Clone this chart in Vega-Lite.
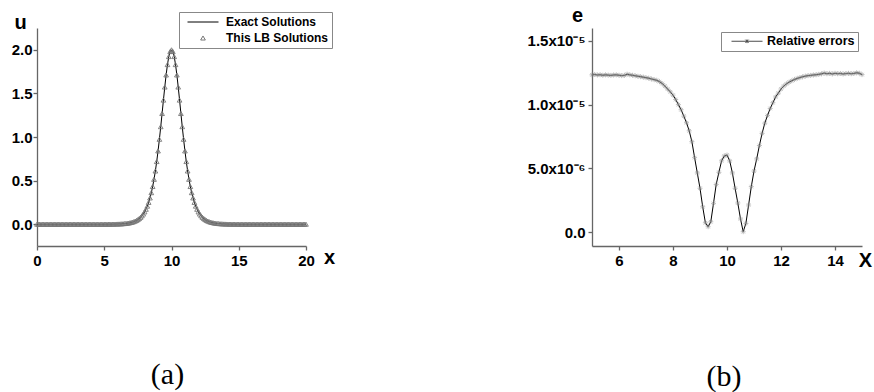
{
  "$schema": "https://vega.github.io/schema/vega-lite/v6.json",
  "padding": {"left": 11, "top": 5, "right": 5, "bottom": 5},
  "datasets": {
    "wave": [
      {"x":0,"u":0},{"x":0.1,"u":0},{"x":0.2,"u":0},{"x":0.3,"u":0},{"x":0.4,"u":0},{"x":0.5,"u":0},{"x":0.6,"u":0},{"x":0.7,"u":0},{"x":0.8,"u":0},{"x":0.9,"u":0},
      {"x":1,"u":0},{"x":1.1,"u":0},{"x":1.2,"u":0},{"x":1.3,"u":0},{"x":1.4,"u":0},{"x":1.5,"u":0},{"x":1.6,"u":0},{"x":1.7,"u":0},{"x":1.8,"u":0},{"x":1.9,"u":0},
      {"x":2,"u":0},{"x":2.1,"u":0},{"x":2.2,"u":0},{"x":2.3,"u":0},{"x":2.4,"u":0},{"x":2.5,"u":0},{"x":2.6,"u":0},{"x":2.7,"u":0},{"x":2.8,"u":0},{"x":2.9,"u":0},
      {"x":3,"u":0},{"x":3.1,"u":0},{"x":3.2,"u":0},{"x":3.3,"u":0},{"x":3.4,"u":0},{"x":3.5,"u":0},{"x":3.6,"u":0},{"x":3.7,"u":0},{"x":3.8,"u":0},{"x":3.9,"u":0},
      {"x":4,"u":0},{"x":4.1,"u":0},{"x":4.2,"u":0},{"x":4.3,"u":0},{"x":4.4,"u":0},{"x":4.5,"u":0},{"x":4.6,"u":0},{"x":4.7,"u":0},{"x":4.8,"u":0},{"x":4.9,"u":0},
      {"x":5,"u":0.0004},{"x":5.1,"u":0.0004},{"x":5.2,"u":0.0005},{"x":5.3,"u":0.0007},{"x":5.4,"u":0.0008},{"x":5.5,"u":0.001},{"x":5.6,"u":0.0012},{"x":5.7,"u":0.0015},{"x":5.8,"u":0.0018},{"x":5.9,"u":0.0022},
      {"x":6,"u":0.0027},{"x":6.1,"u":0.0033},{"x":6.2,"u":0.004},{"x":6.3,"u":0.0049},{"x":6.4,"u":0.006},{"x":6.5,"u":0.0073},{"x":6.6,"u":0.0089},{"x":6.7,"u":0.0109},{"x":6.8,"u":0.0133},{"x":6.9,"u":0.0162},
      {"x":7,"u":0.0197},{"x":7.1,"u":0.0241},{"x":7.2,"u":0.0294},{"x":7.3,"u":0.0358},{"x":7.4,"u":0.0437},{"x":7.5,"u":0.0532},{"x":7.6,"u":0.0648},{"x":7.7,"u":0.0788},{"x":7.8,"u":0.0959},{"x":7.9,"u":0.1165},
      {"x":8,"u":0.1413},{"x":8.1,"u":0.1712},{"x":8.2,"u":0.2071},{"x":8.3,"u":0.25},{"x":8.4,"u":0.3011},{"x":8.5,"u":0.3614},{"x":8.6,"u":0.4323},{"x":8.7,"u":0.5149},{"x":8.8,"u":0.61},{"x":8.9,"u":0.7184},
      {"x":9,"u":0.84},{"x":9.1,"u":0.9738},{"x":9.2,"u":1.1181},{"x":9.3,"u":1.2695},{"x":9.4,"u":1.4232},{"x":9.5,"u":1.5729},{"x":9.6,"u":1.7113},{"x":9.7,"u":1.8303},{"x":9.8,"u":1.9221},{"x":9.9,"u":1.9801},
      {"x":10,"u":2},
      {"x":10.1,"u":1.9801},{"x":10.2,"u":1.9221},{"x":10.3,"u":1.8303},{"x":10.4,"u":1.7113},{"x":10.5,"u":1.5729},{"x":10.6,"u":1.4232},{"x":10.7,"u":1.2695},{"x":10.8,"u":1.1181},{"x":10.9,"u":0.9738},{"x":11,"u":0.84},
      {"x":11.1,"u":0.7184},{"x":11.2,"u":0.61},{"x":11.3,"u":0.5149},{"x":11.4,"u":0.4323},{"x":11.5,"u":0.3614},{"x":11.6,"u":0.3011},{"x":11.7,"u":0.25},{"x":11.8,"u":0.2071},{"x":11.9,"u":0.1712},{"x":12,"u":0.1413},
      {"x":12.1,"u":0.1165},{"x":12.2,"u":0.0959},{"x":12.3,"u":0.0788},{"x":12.4,"u":0.0648},{"x":12.5,"u":0.0532},{"x":12.6,"u":0.0437},{"x":12.7,"u":0.0358},{"x":12.8,"u":0.0294},{"x":12.9,"u":0.0241},{"x":13,"u":0.0197},
      {"x":13.1,"u":0.0162},{"x":13.2,"u":0.0133},{"x":13.3,"u":0.0109},{"x":13.4,"u":0.0089},{"x":13.5,"u":0.0073},{"x":13.6,"u":0.006},{"x":13.7,"u":0.0049},{"x":13.8,"u":0.004},{"x":13.9,"u":0.0033},{"x":14,"u":0.0027},
      {"x":14.1,"u":0.0022},{"x":14.2,"u":0.0018},{"x":14.3,"u":0.0015},{"x":14.4,"u":0.0012},{"x":14.5,"u":0.001},{"x":14.6,"u":0.0008},{"x":14.7,"u":0.0007},{"x":14.8,"u":0.0005},{"x":14.9,"u":0.0004},{"x":15,"u":0.0004},
      {"x":15.1,"u":0},{"x":15.2,"u":0},{"x":15.3,"u":0},{"x":15.4,"u":0},{"x":15.5,"u":0},{"x":15.6,"u":0},{"x":15.7,"u":0},{"x":15.8,"u":0},{"x":15.9,"u":0},{"x":16,"u":0},
      {"x":16.1,"u":0},{"x":16.2,"u":0},{"x":16.3,"u":0},{"x":16.4,"u":0},{"x":16.5,"u":0},{"x":16.6,"u":0},{"x":16.7,"u":0},{"x":16.8,"u":0},{"x":16.9,"u":0},{"x":17,"u":0},
      {"x":17.1,"u":0},{"x":17.2,"u":0},{"x":17.3,"u":0},{"x":17.4,"u":0},{"x":17.5,"u":0},{"x":17.6,"u":0},{"x":17.7,"u":0},{"x":17.8,"u":0},{"x":17.9,"u":0},{"x":18,"u":0},
      {"x":18.1,"u":0},{"x":18.2,"u":0},{"x":18.3,"u":0},{"x":18.4,"u":0},{"x":18.5,"u":0},{"x":18.6,"u":0},{"x":18.7,"u":0},{"x":18.8,"u":0},{"x":18.9,"u":0},{"x":19,"u":0},
      {"x":19.1,"u":0},{"x":19.2,"u":0},{"x":19.3,"u":0},{"x":19.4,"u":0},{"x":19.5,"u":0},{"x":19.6,"u":0},{"x":19.7,"u":0},{"x":19.8,"u":0},{"x":19.9,"u":0},{"x":20,"u":0}
    ],
    "err": [
      {"x":5,"e":1.233e-5},{"x":5.1,"e":1.236e-5},{"x":5.2,"e":1.232e-5},{"x":5.3,"e":1.234e-5},{"x":5.4,"e":1.230e-5},{"x":5.5,"e":1.233e-5},{"x":5.6,"e":1.231e-5},{"x":5.7,"e":1.229e-5},{"x":5.8,"e":1.232e-5},{"x":5.9,"e":1.233e-5},
      {"x":6,"e":1.230e-5},{"x":6.1,"e":1.227e-5},{"x":6.2,"e":1.229e-5},{"x":6.3,"e":1.238e-5},{"x":6.4,"e":1.233e-5},{"x":6.5,"e":1.230e-5},{"x":6.6,"e":1.226e-5},{"x":6.7,"e":1.222e-5},{"x":6.8,"e":1.219e-5},{"x":6.9,"e":1.215e-5},
      {"x":7,"e":1.211e-5},{"x":7.1,"e":1.207e-5},{"x":7.2,"e":1.201e-5},{"x":7.3,"e":1.196e-5},{"x":7.4,"e":1.190e-5},{"x":7.5,"e":1.180e-5},{"x":7.6,"e":1.165e-5},{"x":7.7,"e":1.145e-5},{"x":7.8,"e":1.122e-5},{"x":7.9,"e":1.100e-5},
      {"x":8,"e":1.074e-5},{"x":8.1,"e":1.040e-5},{"x":8.2,"e":1.000e-5},{"x":8.3,"e":9.60e-6},{"x":8.4,"e":9.10e-6},{"x":8.5,"e":8.58e-6},{"x":8.6,"e":7.95e-6},{"x":8.7,"e":7.10e-6},{"x":8.8,"e":5.85e-6},{"x":8.9,"e":4.65e-6},
      {"x":9,"e":3.45e-6},{"x":9.1,"e":2.00e-6},{"x":9.2,"e":7.5e-7},{"x":9.3,"e":4.4e-7},{"x":9.4,"e":8.3e-7},{"x":9.5,"e":2.27e-6},{"x":9.6,"e":3.75e-6},{"x":9.7,"e":4.70e-6},{"x":9.8,"e":5.60e-6},{"x":9.9,"e":5.98e-6},
      {"x":10,"e":6.05e-6},{"x":10.1,"e":5.60e-6},{"x":10.2,"e":4.65e-6},{"x":10.3,"e":3.45e-6},{"x":10.4,"e":2.30e-6},{"x":10.5,"e":1.05e-6},{"x":10.6,"e":5e-8},{"x":10.7,"e":7.0e-7},{"x":10.8,"e":2.14e-6},{"x":10.9,"e":3.58e-6},
      {"x":11,"e":4.80e-6},{"x":11.1,"e":5.75e-6},{"x":11.2,"e":6.80e-6},{"x":11.3,"e":7.75e-6},{"x":11.4,"e":8.55e-6},{"x":11.5,"e":9.15e-6},{"x":11.6,"e":9.70e-6},{"x":11.7,"e":1.015e-5},{"x":11.8,"e":1.060e-5},{"x":11.9,"e":1.090e-5},
      {"x":12,"e":1.122e-5},{"x":12.1,"e":1.145e-5},{"x":12.2,"e":1.162e-5},{"x":12.3,"e":1.176e-5},{"x":12.4,"e":1.187e-5},{"x":12.5,"e":1.197e-5},{"x":12.6,"e":1.205e-5},{"x":12.7,"e":1.212e-5},{"x":12.8,"e":1.218e-5},{"x":12.9,"e":1.223e-5},
      {"x":13,"e":1.227e-5},{"x":13.1,"e":1.229e-5},{"x":13.2,"e":1.232e-5},{"x":13.3,"e":1.234e-5},{"x":13.4,"e":1.237e-5},{"x":13.5,"e":1.241e-5},{"x":13.6,"e":1.247e-5},{"x":13.7,"e":1.242e-5},{"x":13.8,"e":1.245e-5},{"x":13.9,"e":1.240e-5},
      {"x":14,"e":1.245e-5},{"x":14.1,"e":1.242e-5},{"x":14.2,"e":1.244e-5},{"x":14.3,"e":1.240e-5},{"x":14.4,"e":1.243e-5},{"x":14.5,"e":1.245e-5},{"x":14.6,"e":1.242e-5},{"x":14.7,"e":1.244e-5},{"x":14.8,"e":1.249e-5},{"x":14.9,"e":1.246e-5},
      {"x":15,"e":1.235e-5}
    ]
  },
  "spacing": 286,
  "bounds": "flush",
  "resolve": {"scale": {"shape": "independent", "color": "independent", "size": "independent"}, "legend": {"shape": "independent", "color": "independent", "size": "independent"}},
  "hconcat": [
    {
      "width": 269,
      "height": 218,
      "title": {"text": "(a)", "orient": "bottom", "anchor": "middle", "frame": "group", "font": "Liberation Serif", "fontSize": 30, "fontWeight": "normal", "color": "black", "offset": 92, "dx": -4},
      "data": {"name": "wave"},
      "encoding": {
        "x": {"field": "x", "type": "quantitative", "scale": {"domain": [0, 20], "nice": false, "zero": false},
              "axis": {"values": [0, 5, 10, 15, 20], "title": "x", "titleX": 292, "titleY": 17, "titleAlign": "center", "titleBaseline": "alphabetic", "labelPadding": 3}},
        "y": {"field": "u", "type": "quantitative", "scale": {"domain": [-0.25, 2.25], "nice": false, "zero": false},
              "axis": {"values": [0, 0.5, 1, 1.5, 2], "format": ".1f", "title": "u", "titleAngle": 0, "titleX": -17, "titleY": 0, "titleAlign": "center", "titleBaseline": "alphabetic", "labelPadding": 1}}
      },
      "layer": [
        {"mark": {"type": "line", "color": "black", "strokeWidth": 1}},
        {"mark": {"type": "point", "filled": false, "strokeWidth": 0.9, "opacity": 1},
         "encoding": {
           "shape": {"datum": "This LB Solutions", "type": "nominal",
                     "scale": {"domain": ["Exact Solutions", "This LB Solutions"], "range": ["stroke", "triangle-up"]},
                     "legend": {"orient": "none", "legendX": 142, "legendY": -16, "title": null, "padding": 4, "rowPadding": 4,
                                "clipHeight": 12, "symbolOffset": 4, "labelOffset": 7, "labelFontSize": 12, "symbolStrokeWidth": 1}},
           "color": {"datum": "This LB Solutions", "type": "nominal",
                     "scale": {"domain": ["Exact Solutions", "This LB Solutions"], "range": ["black", "#777777"]},
                     "legend": {"orient": "none", "legendX": 142, "legendY": -16, "title": null, "padding": 4, "rowPadding": 4,
                                "clipHeight": 12, "symbolOffset": 4, "labelOffset": 7, "labelFontSize": 12, "symbolStrokeWidth": 1}},
           "size": {"datum": "This LB Solutions", "type": "nominal",
                    "scale": {"type": "ordinal", "domain": ["Exact Solutions", "This LB Solutions"], "range": [961, 22]},
                    "legend": {"orient": "none", "legendX": 142, "legendY": -16, "title": null, "padding": 4, "rowPadding": 4,
                               "clipHeight": 12, "symbolOffset": 4, "labelOffset": 7, "labelFontSize": 12, "symbolStrokeWidth": 1}}
         }}
      ]
    },
    {
      "width": 270,
      "height": 218,
      "title": {"text": "(b)", "orient": "bottom", "anchor": "middle", "frame": "group", "font": "Liberation Serif", "fontSize": 30, "fontWeight": "normal", "color": "black", "offset": 92, "dx": -3},
      "data": {"name": "err"},
      "encoding": {
        "x": {"field": "x", "type": "quantitative", "scale": {"domain": [5, 15], "nice": false, "zero": false},
              "axis": {"values": [6, 8, 10, 12, 14], "title": "X", "titleX": 273, "titleY": 20, "titleAlign": "center", "titleBaseline": "alphabetic", "labelPadding": 3}},
        "y": {"field": "e", "type": "quantitative", "scale": {"domain": [-1.07e-6, 1.6e-5], "nice": false, "zero": false},
              "axis": {"values": [0, 5e-6, 1e-5, 1.5e-5],
                       "labelExpr": "datum.value == 0 ? '0.0' : (datum.value > 9e-6 ? format(datum.value * 1e5, '.1f') + 'x10⁻⁵' : format(datum.value * 1e6, '.1f') + 'x10⁻⁶')",
                       "title": "e", "titleAngle": 0, "titleX": -15, "titleY": -7, "titleAlign": "center", "titleBaseline": "alphabetic", "labelPadding": 3}}
      },
      "layer": [
        {"mark": {"type": "line", "color": "black", "strokeWidth": 1}},
        {"mark": {"type": "point", "filled": false, "color": "#8a8a8a", "strokeWidth": 0.8, "size": 25,
                  "shape": "M-1,0L1,0M0,-1L0,1M-0.7,-0.7L0.7,0.7M-0.7,0.7L0.7,-0.7"}},
        {"transform": [{"filter": "datum.x < 0"}],
         "mark": {"type": "point", "filled": false, "color": "black", "strokeWidth": 1},
         "encoding": {
           "shape": {"datum": "Relative errors", "type": "nominal",
                     "scale": {"domain": ["Relative errors"], "range": ["M-1,0L1,0M0,-0.12L0,0.12M-0.1,-0.1L0.1,0.1M-0.1,0.1L0.1,-0.1"]},
                     "legend": {"orient": "none", "legendX": 129, "legendY": 4, "title": null, "padding": 3,
                                "clipHeight": 12.5, "symbolOffset": 7, "labelOffset": 4, "labelFontSize": 12.5, "symbolStrokeWidth": 1}},
           "size": {"datum": "Relative errors", "type": "nominal",
                    "scale": {"type": "ordinal", "domain": ["Relative errors"], "range": [961]},
                    "legend": {"orient": "none", "legendX": 129, "legendY": 4, "title": null, "padding": 3,
                               "clipHeight": 12.5, "symbolOffset": 7, "labelOffset": 4, "labelFontSize": 12.5, "symbolStrokeWidth": 1}}
         }}
      ]
    }
  ],
  "config": {
    "font": "Liberation Sans",
    "view": {"stroke": null},
    "axis": {
      "grid": false,
      "labelFont": "Liberation Sans", "labelFontWeight": "bold", "labelFontSize": 15, "labelColor": "black",
      "titleFont": "Liberation Sans", "titleFontWeight": "bold", "titleFontSize": 20, "titleColor": "black",
      "domainColor": "#666666", "domainWidth": 1.3, "tickColor": "#666666", "tickWidth": 1.3, "tickSize": 4,
      "labelFlush": false, "labelOverlap": false
    },
    "legend": {
      "labelFont": "Liberation Sans", "labelFontWeight": "bold", "labelColor": "black",
      "strokeColor": "#888888", "fillColor": "white"
    }
  }
}
